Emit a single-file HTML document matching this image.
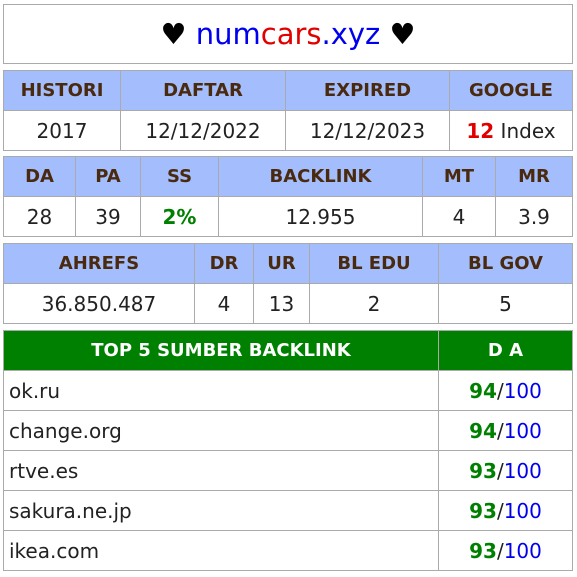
<!DOCTYPE html>
<html><head><meta charset="utf-8"><style>
*{box-sizing:border-box;margin:0;padding:0}
body{width:577px;height:577px;background:#fff;position:relative;overflow:hidden;font-family:"DejaVu Sans","Liberation Sans",sans-serif}
.c{position:absolute;border:1px solid #aaa;display:flex;align-items:center;justify-content:center;font-size:20px;color:#222}
.h{background:#a4bdfc;color:#4a2a0e;font-weight:bold;font-size:18px}
.g{background:#008000;color:#fff;font-weight:bold;font-size:18px}
.l{justify-content:flex-start;padding-left:5px;font-size:20px}
.gr{color:#008000}.bl{color:#0000ee}.rd{color:#e00000}
</style></head><body>
<div class="c" style="left:3px;top:4px;width:570px;height:60px;font-size:29px;color:#000">♥&nbsp;<span class="bl">num</span><span class="rd">cars</span><span class="bl">.xyz</span>&nbsp;♥</div>

<div class="c h" style="left:3px;top:70px;width:118px;height:41px">HISTORI</div>
<div class="c h" style="left:120px;top:70px;width:166px;height:41px">DAFTAR</div>
<div class="c h" style="left:285px;top:70px;width:165px;height:41px">EXPIRED</div>
<div class="c h" style="left:449px;top:70px;width:124px;height:41px">GOOGLE</div>
<div class="c" style="left:3px;top:110px;width:118px;height:41px">2017</div>
<div class="c" style="left:120px;top:110px;width:166px;height:41px">12/12/2022</div>
<div class="c" style="left:285px;top:110px;width:165px;height:41px">12/12/2023</div>
<div class="c" style="left:449px;top:110px;width:124px;height:41px"><b class="rd">12</b>&nbsp;Index</div>

<div class="c h" style="left:3px;top:156px;width:73px;height:41px">DA</div>
<div class="c h" style="left:75px;top:156px;width:66px;height:41px">PA</div>
<div class="c h" style="left:140px;top:156px;width:79px;height:41px">SS</div>
<div class="c h" style="left:218px;top:156px;width:205px;height:41px">BACKLINK</div>
<div class="c h" style="left:422px;top:156px;width:74px;height:41px">MT</div>
<div class="c h" style="left:495px;top:156px;width:78px;height:41px">MR</div>
<div class="c" style="left:3px;top:196px;width:73px;height:41px">28</div>
<div class="c" style="left:75px;top:196px;width:66px;height:41px">39</div>
<div class="c" style="left:140px;top:196px;width:79px;height:41px"><b class="gr">2%</b></div>
<div class="c" style="left:218px;top:196px;width:205px;height:41px">12.955</div>
<div class="c" style="left:422px;top:196px;width:74px;height:41px">4</div>
<div class="c" style="left:495px;top:196px;width:78px;height:41px">3.9</div>

<div class="c h" style="left:3px;top:243px;width:192px;height:41px">AHREFS</div>
<div class="c h" style="left:194px;top:243px;width:60px;height:41px">DR</div>
<div class="c h" style="left:253px;top:243px;width:57px;height:41px">UR</div>
<div class="c h" style="left:309px;top:243px;width:130px;height:41px">BL EDU</div>
<div class="c h" style="left:438px;top:243px;width:135px;height:41px">BL GOV</div>
<div class="c" style="left:3px;top:283px;width:192px;height:41px">36.850.487</div>
<div class="c" style="left:194px;top:283px;width:60px;height:41px">4</div>
<div class="c" style="left:253px;top:283px;width:57px;height:41px">13</div>
<div class="c" style="left:309px;top:283px;width:130px;height:41px">2</div>
<div class="c" style="left:438px;top:283px;width:135px;height:41px">5</div>

<div class="c g" style="left:3px;top:330px;width:436px;height:41px">TOP 5 SUMBER BACKLINK</div>
<div class="c g" style="left:438px;top:330px;width:135px;height:41px">D A</div>

<div class="c l" style="left:3px;top:370px;width:436px;height:41px">ok.ru</div>
<div class="c" style="left:438px;top:370px;width:135px;height:41px"><b class="gr">94</b>/<span class="bl">100</span></div>
<div class="c l" style="left:3px;top:410px;width:436px;height:41px">change.org</div>
<div class="c" style="left:438px;top:410px;width:135px;height:41px"><b class="gr">94</b>/<span class="bl">100</span></div>
<div class="c l" style="left:3px;top:450px;width:436px;height:41px">rtve.es</div>
<div class="c" style="left:438px;top:450px;width:135px;height:41px"><b class="gr">93</b>/<span class="bl">100</span></div>
<div class="c l" style="left:3px;top:490px;width:436px;height:41px">sakura.ne.jp</div>
<div class="c" style="left:438px;top:490px;width:135px;height:41px"><b class="gr">93</b>/<span class="bl">100</span></div>
<div class="c l" style="left:3px;top:530px;width:436px;height:41px">ikea.com</div>
<div class="c" style="left:438px;top:530px;width:135px;height:41px"><b class="gr">93</b>/<span class="bl">100</span></div>
</body></html>
